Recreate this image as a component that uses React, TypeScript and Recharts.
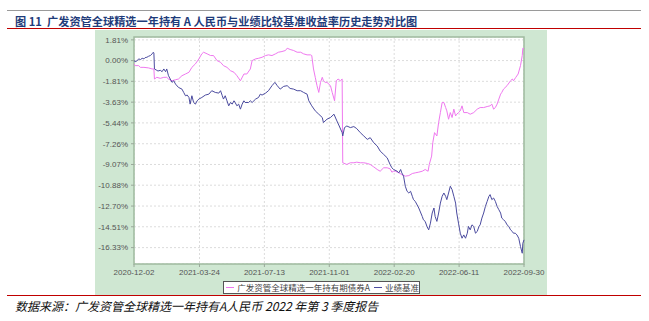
import React from 'react';
import { LineChart, Line, XAxis, YAxis, CartesianGrid, ReferenceArea } from 'recharts';

// x ticks are dates; the series are keyed by day offset from the first date
const xTickLabels = ['2020-12-02', '2021-03-24', '2021-07-13', '2021-11-01', '2022-02-20', '2022-06-11', '2022-09-30'];
const yTicks = [1.81, 0, -1.81, -3.63, -5.44, -7.26, -9.07, -10.88, -12.7, -14.51, -16.33];

const fundDays = [
  0, 2, 8, 11, 17, 25, 31, 34, 35, 39, 45, 51, 56, 59, 65, 71, 76, 82, 88, 94, 99, 105, 111, 116, 119, 125,
  131, 136, 142, 148, 153, 159, 165, 171, 176, 182, 188, 193, 199, 202, 208, 213, 219, 225, 230, 236, 242, 247,
  253, 259, 262, 267, 273, 279, 285, 290, 296, 302, 304, 307, 310, 313, 316, 319, 322, 324, 327, 330, 336, 339,
  343, 346, 349, 353, 356, 357, 364, 370, 376, 381, 387, 393, 399, 404, 410, 416, 421, 427, 433, 438, 441, 444,
  447, 453, 458, 464, 470, 476, 481, 487, 493, 498, 503, 505, 509, 511, 514, 518, 521, 524, 527, 530, 533, 535,
  538, 541, 544, 547, 550, 552, 555, 558, 561, 564, 570, 575, 581, 587, 592, 598, 604, 609, 612, 615, 618, 621,
  624, 627, 629, 632, 638, 644, 647, 649, 653, 657, 661, 664, 665, 667,
];
const fundValues = [
  -0.29, -0.44, -0.44, -0.59, -0.59, -0.64, -0.73, -0.73, -1.61, -1.46, -1.55, -1.46, -1.46, -1.61, -1.76, -1.67,
  -1.61, -1.32, -1.17, -1.02, -0.59, -0.29, 0.15, 0.59, 0.73, 0.59, 0.44, 0.44, 0.0, -0.15, -0.44, -0.59, -0.88,
  -1.02, -1.32, -1.76, -1.17, -1.17, -0.73, 0.0, 0.15, 0.2, 0.29, 0.44, 0.5, 0.44, 0.59, 0.73, 0.79, 0.88, 1.08,
  0.97, 0.88, 0.73, 0.73, 0.59, 0.5, 0.5, 0.44, -0.73, -1.46, -2.19, -2.78, -1.9, -1.46, -1.76, -1.9, -1.9, -2.19,
  -2.78, -3.51, -1.76, -1.61, -1.76, -1.61, -8.92, -9.07, -8.92, -8.92, -8.87, -8.92, -8.92, -8.98, -9.07, -9.28,
  -9.51, -9.66, -9.36, -9.36, -9.45, -9.74, -9.66, -9.66, -9.8, -9.95, -10.09, -10.04, -9.86, -9.8, -9.74, -9.66,
  -9.51, -9.66, -9.07, -8.34, -7.17, -6.29, -6.58, -5.41, -4.54, -3.66, -3.66, -4.1, -4.39, -5.12, -4.54, -4.97,
  -4.24, -4.83, -4.68, -4.54, -4.39, -3.95, -4.54, -4.54, -4.68, -4.54, -4.24, -4.1, -4.1, -4.01, -3.95, -3.8,
  -4.24, -4.1, -3.8, -3.36, -2.93, -2.78, -2.49, -2.19, -1.76, -1.61, -1.76, -1.46, -1.17, -0.44, 0.44, 1.08, 1.02,
];

const benchDays = [
  0, 2, 5, 8, 11, 14, 17, 19, 22, 25, 28, 31, 33, 34, 35, 38, 41, 45, 48, 51, 54, 56, 59, 62, 65, 68, 71, 76, 82,
  85, 88, 91, 94, 96, 99, 102, 105, 108, 111, 116, 122, 128, 133, 139, 145, 148, 151, 153, 156, 159, 162, 165, 168,
  171, 173, 176, 179, 182, 185, 188, 190, 196, 199, 202, 208, 213, 216, 219, 225, 230, 236, 241, 245, 250, 256,
  262, 267, 273, 279, 285, 290, 296, 299, 304, 310, 316, 322, 324, 330, 336, 342, 347, 351, 356, 357, 360, 364,
  370, 376, 381, 387, 393, 399, 404, 410, 416, 421, 427, 433, 438, 441, 444, 450, 453, 456, 458, 461, 464, 467,
  470, 473, 476, 478, 481, 487, 493, 495, 498, 501, 504, 507, 510, 513, 515, 518, 521, 524, 527, 530, 533, 535,
  538, 541, 544, 547, 550, 552, 555, 558, 561, 564, 567, 570, 572, 575, 578, 581, 584, 587, 590, 592, 595, 598,
  601, 604, 607, 609, 612, 615, 618, 621, 624, 627, 629, 632, 635, 638, 641, 644, 647, 649, 652, 655, 658, 661,
  664, 665, 667,
];
const benchValues = [
  0.0, -0.09, -0.03, 0.15, 0.09, 0.2, 0.15, 0.26, 0.29, 0.38, 0.44, 0.59, 0.73, 0.67, -0.73, -0.82, -0.91, -0.85,
  -0.97, -0.73, -0.97, -0.73, -1.32, -1.61, -1.9, -1.76, -2.05, -2.34, -2.49, -2.78, -3.07, -3.01, -3.22, -3.8,
  -3.07, -3.66, -3.8, -3.51, -3.36, -3.22, -3.01, -2.93, -2.63, -2.78, -2.84, -2.63, -3.07, -3.36, -3.07, -3.51,
  -3.95, -3.66, -3.8, -3.51, -3.66, -3.95, -3.8, -4.24, -3.8, -3.51, -3.66, -3.66, -3.51, -3.66, -3.36, -3.22,
  -2.93, -3.01, -2.84, -2.63, -2.19, -1.9, -2.19, -2.49, -2.25, -2.19, -2.43, -2.49, -2.63, -2.63, -2.78, -2.93,
  -3.51, -3.95, -4.39, -4.68, -4.97, -5.41, -5.12, -4.97, -4.68, -5.27, -5.71, -6.29, -6.58, -5.85, -5.71, -5.85,
  -5.76, -5.94, -6.29, -6.58, -6.88, -6.73, -7.17, -7.46, -7.9, -8.19, -8.49, -9.07, -9.36, -9.51, -9.66, -9.8,
  -9.51, -9.8, -10.09, -10.97, -11.41, -11.56, -11.41, -11.85, -12.14, -12.29, -12.87, -13.61, -13.9, -14.04,
  -14.48, -14.78, -14.19, -13.31, -12.87, -13.61, -14.04, -13.31, -12.44, -11.85, -11.56, -11.85, -12.14, -11.56,
  -10.97, -11.27, -11.85, -12.44, -13.31, -14.19, -15.07, -15.51, -15.22, -15.51, -15.07, -14.48, -14.78, -14.34,
  -14.48, -15.07, -14.92, -14.48, -14.34, -13.75, -13.31, -12.73, -12.29, -11.85, -11.7, -12.14, -12.0, -12.29,
  -12.73, -13.02, -13.31, -13.75, -13.9, -14.04, -14.34, -14.48, -14.78, -14.92, -15.07, -15.07, -15.22, -15.51,
  -16.24, -16.82, -15.95, -15.65,
];

const DAY = 86400000;
const t0 = Date.parse(xTickLabels[0]);
const xTicks = xTickLabels.map((s) => Math.round((Date.parse(s) - t0) / DAY));
const xMax = xTicks[xTicks.length - 1];
const yMin = -17.76;
const yMax = 2.06;

// merge both series on day offset
const rows: Record<number, any> = {};
fundDays.forEach((d, i) => { rows[d] = { ...(rows[d] || { day: d }), fund: fundValues[i] }; });
benchDays.forEach((d, i) => { rows[d] = { ...(rows[d] || { day: d }), bench: benchValues[i] }; });
const data = Object.values(rows).sort((a, b) => a.day - b.day);

const tickLabel = (d: number) => xTickLabels[xTicks.indexOf(d)] ?? '';

const PINK = '#ef78ef';
const BLUE = '#4b4b9f';
const cjk = '"Noto Sans CJK SC", "Noto Sans", sans-serif';

export default function App() {
  return (
    <div style={{ position: 'absolute', left: 0, top: 0, width: 649, height: 321, background: '#fff', fontFamily: cjk }}>
      <div style={{ position: 'absolute', left: 7, top: 10, width: 634, height: 1, background: '#9a9a9a' }} />
      <div
        style={{
          position: 'absolute', left: 15, top: 13, fontSize: 11.2, fontWeight: 700, color: '#1f3c7a',
          whiteSpace: 'nowrap', lineHeight: '16px',
        }}
      >
        图 11&nbsp; 广发资管全球精选一年持有 A 人民币与业绩比较基准收益率历史走势对比图
      </div>
      <div style={{ position: 'absolute', left: 7, top: 28, width: 634, height: 1, background: '#c00000' }} />

      <div style={{ position: 'absolute', left: 95, top: 30, width: 452, height: 265, background: '#cfe7d2' }}>
        <LineChart width={452} height={265} data={data} margin={{ top: 7, right: 23, bottom: 0, left: 0 }}>
          <CartesianGrid fill="#ffffff" stroke="#dcdcdc" strokeDasharray="2 2" />
          <XAxis
            dataKey="day"
            type="number"
            domain={[0, xMax]}
            ticks={xTicks}
            tickFormatter={tickLabel}
            height={31}
            axisLine={false}
            tickLine={{ stroke: '#9aa89a' }}
            tickSize={3}
            tickMargin={2}
            interval={0}
            tick={{ fontSize: 8, fill: '#555', fontFamily: 'Liberation Sans, Arial, sans-serif' }}
          />
          <YAxis
            type="number"
            domain={[yMin, yMax]}
            ticks={yTicks}
            tickFormatter={(v: number) => v.toFixed(2) + '%'}
            width={39}
            axisLine={false}
            tickLine={{ stroke: '#9aa89a' }}
            tickSize={3}
            tickMargin={3}
            interval={0}
            tick={{ fontSize: 8, fill: '#555', fontFamily: 'Liberation Sans, Arial, sans-serif' }}
          />
          <Line
            type="linear"
            dataKey="fund"
            stroke={PINK}
            strokeWidth={1}
            dot={false}
            connectNulls
            isAnimationActive={false}
          />
          <Line
            type="linear"
            dataKey="bench"
            stroke={BLUE}
            strokeWidth={1}
            dot={false}
            connectNulls
            isAnimationActive={false}
          />
          <ReferenceArea
            x1={0}
            x2={xMax}
            y1={yMin}
            y2={yMax}
            fill="none"
            stroke="#9fba9f"
            strokeWidth={1.5}
            ifOverflow="visible"
          />
        </LineChart>
      </div>

      <div
        style={{
          position: 'absolute', left: 223, top: 281, width: 193, height: 11, border: '1px solid #555',
          background: '#fff', fontSize: 8.5, color: '#444', lineHeight: '11px', whiteSpace: 'nowrap',
          display: 'flex', alignItems: 'center', paddingLeft: 2,
        }}
      >
        <span style={{ display: 'inline-block', width: 9, height: 1.5, background: PINK, marginRight: 3 }} />
        广发资管全球精选一年持有期债券A
        <span style={{ display: 'inline-block', width: 9, height: 1.5, background: BLUE, margin: '0 3px 0 4px' }} />
        业绩基准
      </div>

      <div style={{ position: 'absolute', left: 7, top: 295, width: 634, height: 1, background: '#c00000' }} />
      <div
        style={{
          position: 'absolute', left: 15, top: 297, fontSize: 12, fontStyle: 'italic', color: '#111',
          whiteSpace: 'nowrap', lineHeight: '17px',
        }}
      >
        数据来源：广发资管全球精选一年持有A人民币 2022 年第 3 季度报告
      </div>
    </div>
  );
}
